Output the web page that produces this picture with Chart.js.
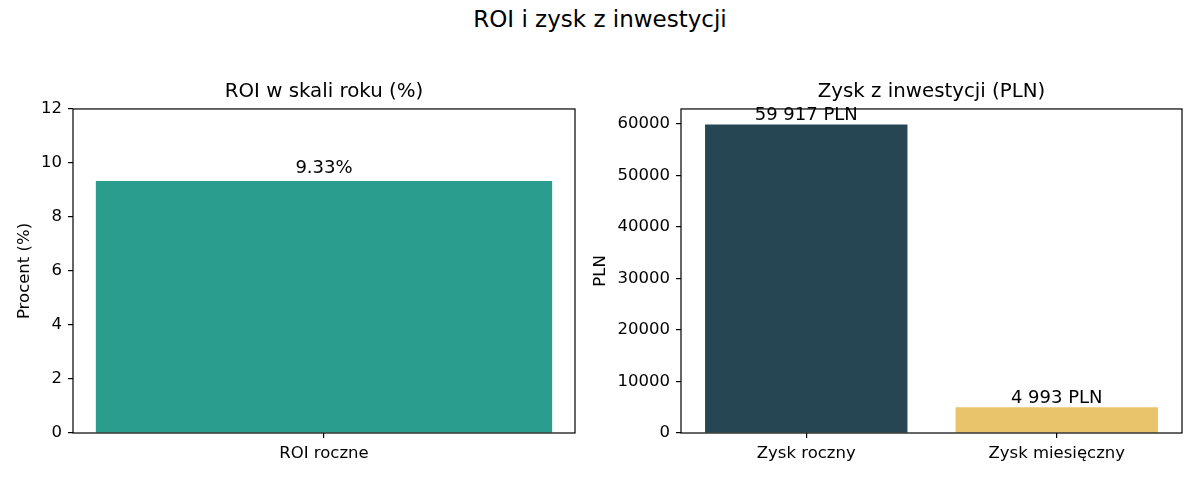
<!DOCTYPE html>
<html>
<head>
<meta charset="utf-8">
<script src="https://cdn.jsdelivr.net/npm/chart.js@4.4.0/dist/chart.umd.min.js"></script>
<style>
  html, body { margin: 0; padding: 0; background: #fff; }
  #wrap { position: relative; width: 1200px; height: 480px; overflow: hidden; }
  #suptitle { position: absolute; left: 0; top: 8px; width: 1200px; text-align: center;
    font-family: "DejaVu Sans"; font-size: 23px; line-height: 23px; color: #000; }
  .box { position: absolute; top: 0; height: 480px; }
</style>
</head>
<body>
<div id="wrap">
  <div id="suptitle">ROI i zysk z inwestycji</div>
  <div class="box" style="left:0;width:600px"><canvas id="roiChart"></canvas></div>
  <div class="box" style="left:580px;width:620px"><canvas id="zyskChart"></canvas></div>
</div>
<script>
// DATA
var roiCategories=["ROI roczne"];
var roiValues=[9.33];
var roiColors=["#2a9d8f"];
var roiTickValues=[0, 2, 4, 6, 8, 10, 12];
var roiRange=[0, 12];

var zyskCategories=["Zysk roczny", "Zysk miesięczny"];
var zyskValues=[59917, 4993];
var zyskColors=["#264653", "#e9c46a"];
var zyskTickValues=[0, 10000, 20000, 30000, 40000, 50000, 60000];
var zyskRange=[0, 62913];

Chart.defaults.font.family="DejaVu Sans";
Chart.defaults.color="#000";

function plnText(v){
  return String(v).replace(/\B(?=(\d{3})+(?!\d))/g, " ")+" PLN";
}

// axes frame, like matplotlib spines
var framePlugin={
  id: "frame",
  afterDatasetsDraw: function(chart){
    var a=chart.chartArea, c=chart.ctx;
    c.save();
    c.strokeStyle="#000";
    c.lineWidth=1.2;
    c.strokeRect(a.left, a.top, a.right-a.left, a.bottom-a.top);
    c.restore();
  }
};

// value text over each bar
var valuePlugin={
  id: "valueText",
  afterDatasetsDraw: function(chart, args, opts){
    var c=chart.ctx, ys=chart.scales.y;
    c.save();
    c.font=opts.size+"px DejaVu Sans";
    c.fillStyle="#000";
    c.textAlign="center";
    c.textBaseline="alphabetic";
    chart.data.datasets.forEach(function(ds, di){
      chart.getDatasetMeta(di).data.forEach(function(bar, i){
        var v=ds.data[i];
        var y=ys.getPixelForValue(v+opts.offset)-0.236*opts.size;
        c.fillText(opts.format(v), bar.x, y);
      });
    });
    c.restore();
  }
};

function makeOptions(title, yTitle, range, tickValues, yWidth, yTitlePad, padRight, barPct, fmt, offset){
  return {
    responsive: true,
    maintainAspectRatio: false,
    animation: false,
    layout: {padding: {left: 0, right: padRight, top: 0, bottom: 0}},
    plugins: {
      legend: {display: false},
      tooltip: {enabled: false},
      title: {
        display: true,
        text: title,
        fullSize: false,
        font: {size: 19.8, weight: "normal"},
        color: "#000",
        padding: {top: 80, bottom: 5.2}
      },
      valueText: {size: 18, offset: offset, format: fmt}
    },
    datasets: {bar: {barPercentage: barPct, categoryPercentage: 1}},
    scales: {
      x: {
        grid: {display: true, drawOnChartArea: false, drawTicks: true, tickLength: 5, offset: false, color: "#000", lineWidth: 1.2},
        border: {display: false},
        ticks: {font: {size: 16.5}, color: "#000", padding: 6, maxRotation: 0, autoSkip: false},
        afterFit: function(s){ s.height=47; }
      },
      y: {
        min: range[0],
        max: range[1],
        grid: {display: true, drawOnChartArea: false, drawTicks: true, tickLength: 5, color: "#000", lineWidth: 1.2},
        border: {display: false},
        ticks: {
          font: {size: 16.5},
          color: "#000",
          padding: 6,
          autoSkip: false,
          callback: function(v){ return String(v); }
        },
        title: {display: true, text: yTitle, font: {size: 16.5}, color: "#000", padding: {top: yTitlePad, bottom: 0}},
        afterBuildTicks: function(s){
          s.ticks=tickValues.map(function(v){ return {value: v}; });
        },
        afterFit: function(s){ s.width=yWidth; }
      }
    }
  };
}

var roiChart=new Chart(document.getElementById("roiChart").getContext("2d"), {
  type: "bar",
  data: {labels: roiCategories, datasets: [{data: roiValues, backgroundColor: roiColors, borderWidth: 0}]},
  options: makeOptions("ROI w skali roku (%)", "Procent (%)", roiRange, roiTickValues, 73, 15, 25, 0.909,
    function(v){ return v.toFixed(2)+"%"; }, 0.15),
  plugins: [framePlugin, valuePlugin]
});

var zyskChart=new Chart(document.getElementById("zyskChart").getContext("2d"), {
  type: "bar",
  data: {labels: zyskCategories, datasets: [{data: zyskValues, backgroundColor: zyskColors, borderWidth: 0}]},
  options: makeOptions("Zysk z inwestycji (PLN)", "PLN", zyskRange, zyskTickValues, 101, 11, 18, 0.808, plnText, 0),
  plugins: [framePlugin, valuePlugin]
});
</script>
</body>
</html>
